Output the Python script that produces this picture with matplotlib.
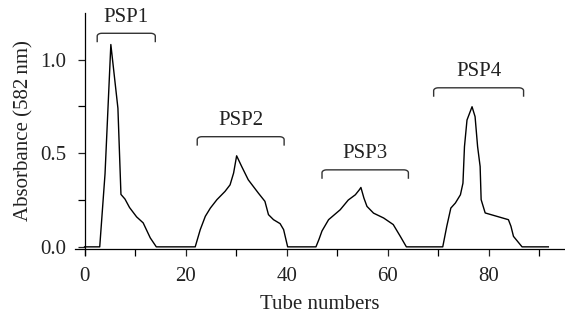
import numpy as np
import matplotlib
matplotlib.use("Agg")
import matplotlib.pyplot as plt

plt.rcParams['font.family'] = ['Liberation Serif', 'DejaVu Serif']
plt.rcParams['font.size'] = 15

tube = [0, 3.0, 4.05, 5.2, 6.6, 7.2, 8.0, 8.9, 10.3, 11.6, 13.0, 14.2,
        21.9, 22.9, 23.9, 24.9, 26.2, 27.8, 28.8, 29.5, 30.1, 31.1, 32.4, 34.4, 35.7, 36.4, 37.4, 38.7, 39.4, 40.2,
        45.8, 46.4, 47.0, 48.3, 50.6, 52.2, 53.6, 54.4, 54.7, 55.3, 55.9, 57.2, 59.2, 61.1, 62.5, 63.7,
        70.9, 71.7, 72.5, 73.4, 74.4, 74.9, 75.2, 75.7, 76.7, 77.3, 77.8, 78.3, 78.5, 79.3, 81.6, 83.9, 84.4, 84.9, 86.6,
        91.8]
absorbance = [0, 0, 0.39, 1.08, 0.74, 0.28, 0.255, 0.21, 0.16, 0.128, 0.048, 0,
              0, 0.092, 0.163, 0.207, 0.252, 0.296, 0.331, 0.394, 0.486, 0.429, 0.358, 0.287, 0.243, 0.172, 0.145, 0.124, 0.092, 0,
              0, 0.04, 0.085, 0.145, 0.198, 0.25, 0.278, 0.305, 0.317, 0.26, 0.216, 0.18, 0.154, 0.119, 0.056, 0,
              0, 0.11, 0.207, 0.234, 0.278, 0.34, 0.535, 0.677, 0.748, 0.695, 0.535, 0.429, 0.252, 0.181, 0.163, 0.145, 0.11, 0.056, 0,
              0]

groups = ["PSP1", "PSP2", "PSP3", "PSP4"]
g_start = [2.5, 22.3, 47.0, 69.1]
g_end = [14.0, 39.5, 64.1, 86.9]
g_level = [1.14, 0.588, 0.411, 0.849]

fig = plt.figure(figsize=(5.65, 3.17), dpi=100)
ax = fig.add_axes([0.1327, 0.2136, 0.8673, 0.7464])
ax.plot(tube, absorbance, color='black', lw=1.0)

ax.set_xlim(-1.9, 95.1)
ax.set_ylim(-0.013, 1.25)
for s in ['top', 'right']:
    ax.spines[s].set_visible(False)
ax.spines['left'].set_position(('data', 0))
ax.spines['left'].set_bounds(-0.045, 1.25)
ax.set_xticks(np.arange(0, 81, 20))
ax.set_xticks(np.arange(0, 91, 10), minor=True)
ax.set_yticks([0, 0.5, 1.0])
ax.set_yticklabels(['0.0', '0.5', '1.0'])
ax.set_yticks(np.arange(0, 1.01, 0.25), minor=True)
ax.tick_params(which='both', direction='out', length=5, width=0.9, color='black')
ax.tick_params(axis='x', labelsize=15, colors='#222222', pad=8)
ax.tick_params(axis='y', labelsize=15, colors='#222222', pad=8)
for s in ax.spines.values():
    s.set_linewidth(0.9)
ax.set_xlabel("Tube numbers", fontsize=15, labelpad=6, color='#222222')
ax.set_ylabel("Absorbance (582\u2009nm)", fontsize=15, labelpad=5, color='#222222')

# brackets
dy, rx, ry = 0.044, 0.9, 0.015
for name, a, b, h in zip(groups, g_start, g_end, g_level):
    t = np.linspace(0, np.pi / 2, 8)
    left_x = a + rx - rx * np.cos(t)
    left_y = h - ry + ry * np.sin(t)
    right_x = b - rx + rx * np.cos(t[::-1])
    right_y = h - ry + ry * np.sin(t[::-1])
    xs = np.concatenate([[a], left_x, right_x, [b]])
    ys = np.concatenate([[h - dy], left_y, right_y, [h - dy]])
    ax.plot(xs, ys, color='#333333', lw=1.0, clip_on=False)
    ax.text((a + b) / 2, h + 0.035, name, ha='center', va='bottom', fontsize=15, color='#222222')

fig.savefig("out.png", dpi=100)
